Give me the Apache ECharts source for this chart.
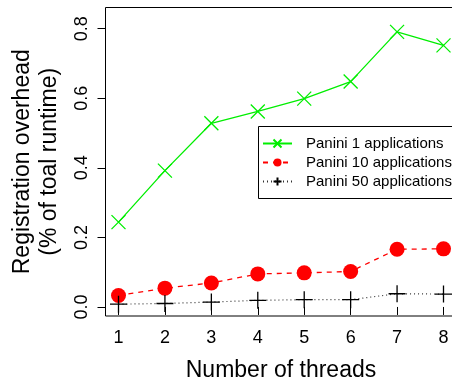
<!DOCTYPE html>
<html>
<head>
<meta charset="utf-8">
<script src="https://cdn.jsdelivr.net/npm/echarts@6/dist/echarts.min.js"></script>
<style>
body{margin:0;background:#fff;}
#chart{width:452px;height:379px;}
</style>
</head>
<body>
<div id="chart"></div>
<script>
var threads = [1, 2, 3, 4, 5, 6, 7, 8];
var xTicks = [1, 2, 3, 4, 5, 6, 7, 8];
var yTicks = [0, 0.2, 0.4, 0.6, 0.8];
var panini1 = [0.244, 0.392, 0.528, 0.562, 0.599, 0.648, 0.791, 0.752];
var panini10 = [0.033, 0.054, 0.069, 0.095, 0.098, 0.102, 0.166, 0.167];
var panini50 = [0.008, 0.010, 0.014, 0.019, 0.021, 0.021, 0.038, 0.037];
var names = ["Panini 1 applications", "Panini 10 applications", "Panini 50 applications"];

function pairs(vals){
	var out = [];
	for(var i=0; i<threads.length; i++){
		out.push([threads[i], vals[i]]);
	}
	return out;
}

var font = "'Liberation Sans', Arial, sans-serif";
//符号
var crossPath = "path://M0,0L10,10M10,0L0,10";
var plusPath = "path://M5,0L5,10M0,5L10,5";

var option = {
	animation: false,
	grid: {
		left: 105.5, top: 7.5, width: 351, height: 308.5,
		outerBoundsMode: "none", containLabel: false,
		show: true, borderColor: "#000", borderWidth: 1, backgroundColor: "transparent"
	},
	//图例边框，右边超出画面
	graphic: [{
		type: "rect", z: 5,
		shape: {x: 258.5, y: 126.5, width: 240, height: 72},
		style: {fill: "#fff", stroke: "#000", lineWidth: 1}
	}],
	xAxis: {
		type: "value", min: 0.72, max: 8.28,
		name: "Number of threads", nameLocation: "middle", nameGap: 43,
		nameTextStyle: {fontFamily: font, fontSize: 23, color: "#000"},
		axisLine: {show: false},
		splitLine: {show: false},
		axisTick: {show: true, length: 8, inside: false, lineStyle: {color: "#000"}, customValues: xTicks},
		axisLabel: {fontFamily: font, fontSize: 18, color: "#000", margin: 13, customValues: xTicks}
	},
	yAxis: {
		type: "value", min: -0.026, max: 0.861,
		name: "Registration overhead\n(% of toal runtime)", nameLocation: "middle", nameGap: 42,
		nameRotate: 90,
		nameTextStyle: {fontFamily: font, fontSize: 23, color: "#000", lineHeight: 27},
		axisLine: {show: false},
		splitLine: {show: false},
		axisTick: {show: true, length: 8, inside: false, lineStyle: {color: "#000"}, customValues: yTicks},
		axisLabel: {fontFamily: font, fontSize: 18, color: "#000", margin: 14, rotate: 90,
			customValues: yTicks,
			formatter: function(v){ return v.toFixed(1); }}
	},
	legend: {
		orient: "vertical", left: 258, top: 126, z: 10,
		padding: [10, 4, 10, 4], itemGap: 4, itemWidth: 29, itemHeight: 10,
		borderWidth: 0,
		textStyle: {fontFamily: font, fontSize: 15, lineHeight: 15, color: "#000", padding: [0, 0, 0, 9]},
		data: names
	},
	series: [{
		name: names[0], type: "line", data: pairs(panini1),
		symbol: crossPath, symbolSize: 14,
		lineStyle: {color: "#00ee00", width: 1.3, type: "solid"},
		itemStyle: {color: "#00ee00", borderColor: "#00ee00", borderWidth: 1.3}
	}, {
		name: names[1], type: "line", data: pairs(panini10),
		symbol: "circle", symbolSize: 15,
		lineStyle: {color: "#ff0000", width: 1.3, type: [5, 5]},
		itemStyle: {color: "#ff0000", borderWidth: 0}
	}, {
		name: names[2], type: "line", data: pairs(panini50),
		symbol: plusPath, symbolSize: 17,
		lineStyle: {color: "#333", width: 1.2, type: [1, 3]},
		itemStyle: {color: "#000", borderColor: "#000", borderWidth: 1.3}
	}]
};

var myChart = echarts.init(document.getElementById("chart"));
myChart.setOption(option);
</script>
</body>
</html>
